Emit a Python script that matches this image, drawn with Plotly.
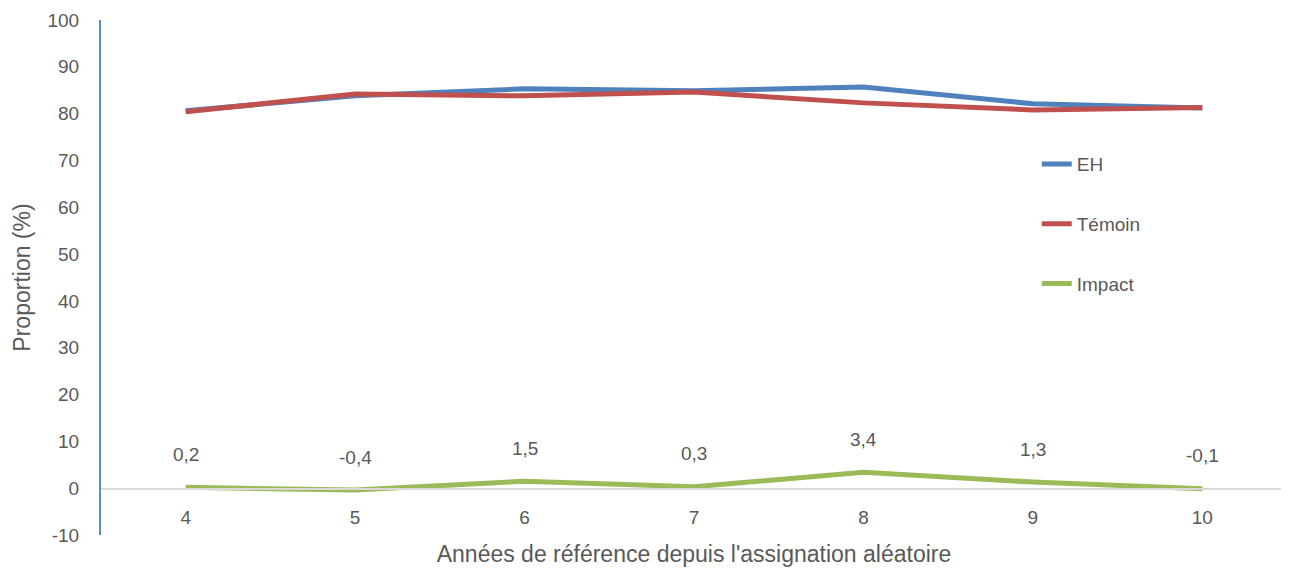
import plotly.graph_objects as go

annees = [4, 5, 6, 7, 8, 9, 10]
eh = [80.6, 83.8, 85.3, 84.9, 85.7, 82.1, 81.2]
temoin = [80.4, 84.2, 83.8, 84.6, 82.3, 80.8, 81.3]
impact = [0.2, -0.4, 1.5, 0.3, 3.4, 1.3, -0.1]
graduations = [-10, 0, 10, 20, 30, 40, 50, 60, 70, 80, 90, 100]
etiquettes_y = ["-10", "0", "10", "20", "30", "40", "50", "60", "70", "80", "90", "100"]

police = "Liberation Sans Narrow, Arial Narrow, Liberation Sans, sans-serif"
gris = "#595959"

fig = go.Figure()
series = [("EH", eh, "#4F81BD"), ("Témoin", temoin, "#C0504D"), ("Impact", impact, "#9BBB59")]
for nom, vals, couleur in series:
    fig.add_trace(go.Scatter(x=annees, y=vals, name=nom, mode="lines", legendgroup=nom,
                             line=dict(color=couleur, width=5)))

# etiquettes de l'impact, virgule decimale
for a, v in zip(annees, impact):
    fig.add_annotation(x=a, y=v, text=f"{v:.1f}".replace(".", ","), showarrow=False,
                       yshift=33, font=dict(family=police, size=19, color=gris))

# la page a une marge de 8px, on la compense
fig.update_layout(
    width=1281, height=565,
    margin=dict(l=93, r=2, t=12, b=38),
    plot_bgcolor="white", paper_bgcolor="white",
    font=dict(family=police, size=19, color=gris),
    legend=dict(x=0.789, y=0.757, xanchor="left", yanchor="top", traceorder="grouped",
                tracegroupgap=32, bgcolor="rgba(0,0,0,0)"),
    xaxis=dict(range=[3.5, 10.5], tickvals=annees, showgrid=False, zeroline=False,
               anchor="free", position=46 / 515, showline=True, linecolor="#d9d9d9", linewidth=2,
               ticks="", ticklabelstandoff=11, automargin=False,
               title=dict(text="Années de référence depuis l'assignation aléatoire", standoff=18)),
    yaxis=dict(range=[-10, 100], tickvals=graduations, ticktext=etiquettes_y,
               showgrid=False, zeroline=False, automargin=False,
               showline=True, linecolor="#5B8CC8", linewidth=2, ticks="", ticklabelstandoff=16,
               title=dict(text="Proportion (%)", standoff=10)),
)

fig.write_html("out.html")
